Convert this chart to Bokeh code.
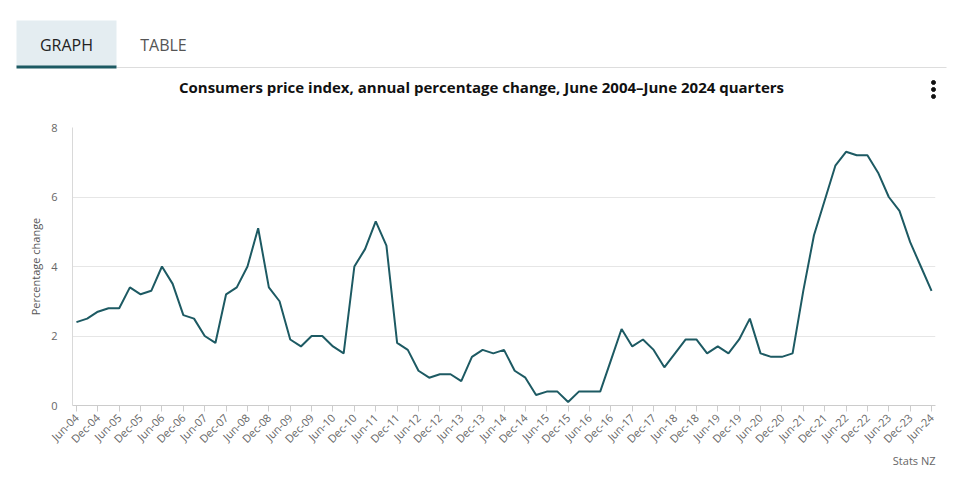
import math
from bokeh.plotting import figure
from bokeh.layouts import column
from bokeh.models import Range1d, FixedTicker, Label, ColumnDataSource, Title
from bokeh.embed import file_html
from bokeh.resources import INLINE

# ---- data ----
cpi_change = [
    2.4, 2.5, 2.7, 2.8, 2.8, 3.4, 3.2, 3.3, 4.0, 3.5,
    2.6, 2.5, 2.0, 1.8, 3.2, 3.4, 4.0, 5.1, 3.4, 3.0,
    1.9, 1.7, 2.0, 2.0, 1.7, 1.5, 4.0, 4.5, 5.3, 4.6,
    1.8, 1.6, 1.0, 0.8, 0.9, 0.9, 0.7, 1.4, 1.6, 1.5,
    1.6, 1.0, 0.8, 0.3, 0.4, 0.4, 0.1, 0.4, 0.4, 0.4,
    1.3, 2.2, 1.7, 1.9, 1.6, 1.1, 1.5, 1.9, 1.9, 1.5,
    1.7, 1.5, 1.9, 2.5, 1.5, 1.4, 1.4, 1.5, 3.3, 4.9,
    5.9, 6.9, 7.3, 7.2, 7.2, 6.7, 6.0, 5.6, 4.7, 4.0,
    3.3,
]
start_year = 2004
start_month = 6
y_ticks = [0, 2, 4, 6, 8]

month_names = {3: "Mar", 6: "Jun", 9: "Sep", 12: "Dec"}
labels = []
m, yr = start_month, start_year
for _ in cpi_change:
    labels.append(f"{month_names[m]}-{yr % 100:02d}")
    m += 3
    if m > 12:
        m, yr = 3, yr + 1

xs = list(range(len(cpi_change)))
src = ColumnDataSource(dict(x=xs, y=cpi_change, label=labels))

FONT = "Open Sans"
TEAL = "#1d5a63"

# ---- header (tabs + title), coordinates in page pixels ----
W = 957
HH = 120
h = figure(width=W, height=HH, x_range=Range1d(0, W), y_range=Range1d(HH, 0),
           min_border=0, min_border_left=0, min_border_right=0, min_border_top=0,
           min_border_bottom=0, outline_line_color=None, toolbar_location=None,
           output_backend="svg", x_axis_type=None, y_axis_type=None)
h.frame_align = False
h.grid.visible = False
h.quad(left=[16], right=[116], top=[20], bottom=[66], fill_color="#e4edf1", line_color=None)
h.segment(x0=[116], y0=[67], x1=[946], y1=[67], line_color="#dddddd", line_width=1)
h.quad(left=[16], right=[116], top=[65], bottom=[68], fill_color=TEAL, line_color=None)
h.add_layout(Label(x=66, y=44, text="GRAPH", text_font=FONT, text_font_size="16px",
                   text_color="#222222", text_align="center", text_baseline="middle"))
h.add_layout(Label(x=163, y=44, text="TABLE", text_font=FONT, text_font_size="16px",
                   text_color="#555555", text_align="center", text_baseline="middle"))
h.add_layout(Label(x=481, y=86,
                   text="Consumers price index, annual percentage change, June 2004\u2013June 2024 quarters",
                   text_font=FONT, text_font_size="15px", text_font_style="bold",
                   text_color="#111111", text_align="center", text_baseline="middle"))
h.scatter(x=[933, 933, 933], y=[82, 89, 96], size=4, color="#111111")

# ---- main chart ----
p = figure(width=W, height=365, x_range=Range1d(-0.37, len(cpi_change) - 1 + 0.37),
           y_range=Range1d(0, 8), min_border_left=72, min_border_right=22,
           min_border_top=7, min_border_bottom=80, outline_line_color=None,
           toolbar_location=None, output_backend="svg")
p.frame_align = False
p.line("x", "y", source=src, line_color=TEAL, line_width=2)

p.xgrid.visible = False
p.ygrid.grid_line_color = "#e6e6e6"
p.ygrid.ticker = FixedTicker(ticks=y_ticks)

p.yaxis.ticker = FixedTicker(ticks=y_ticks)
p.yaxis.axis_line_color = "#d9d9d9"
p.yaxis.major_tick_line_color = None
p.yaxis.minor_tick_line_color = None
p.yaxis.major_label_text_font = FONT
p.yaxis.major_label_text_font_size = "11px"
p.yaxis.major_label_text_color = "#666666"
p.yaxis.major_label_standoff = 9
p.yaxis.axis_label = "Percentage change"
p.yaxis.axis_label_text_font = FONT
p.yaxis.axis_label_text_font_size = "11px"
p.yaxis.axis_label_text_font_style = "normal"
p.yaxis.axis_label_text_color = "#555555"
p.yaxis.axis_label_standoff = 5

tick_idx = list(range(0, len(cpi_change), 2))
p.xaxis.ticker = FixedTicker(ticks=tick_idx)
p.xaxis.major_label_overrides = {i: labels[i] for i in tick_idx}
p.xaxis.axis_line_color = "#cccccc"
p.xaxis.major_tick_line_color = "#cccccc"
p.xaxis.major_tick_in = 0
p.xaxis.major_tick_out = 6
p.xaxis.minor_tick_line_color = None
p.xaxis.major_label_orientation = math.pi / 4
p.xaxis.major_label_text_font = FONT
p.xaxis.major_label_text_font_size = "11px"
p.xaxis.major_label_text_color = "#666666"
p.xaxis.major_label_standoff = 4

p.add_layout(Title(text="Stats NZ", align="right", text_font=FONT, text_font_size="11px",
                   text_font_style="normal", text_color="#666666", standoff=-7), "below")

layout = column(h, p, spacing=0)
open("out.html", "w").write(file_html(layout, INLINE))
